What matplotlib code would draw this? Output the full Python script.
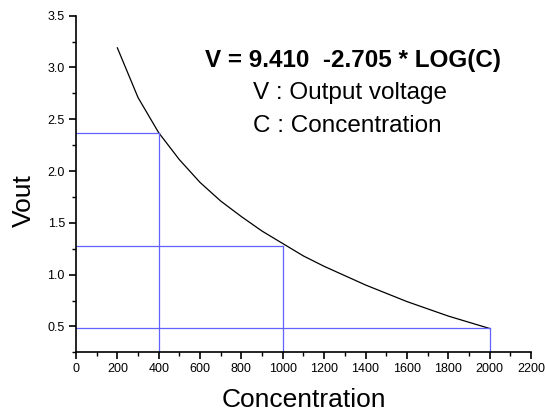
import matplotlib
matplotlib.use("Agg")
import matplotlib.pyplot as plt
from matplotlib.ticker import MultipleLocator

plt.rcParams['font.family'] = ['Liberation Sans', 'DejaVu Sans']

conc = [200, 300, 400, 500, 600, 700, 800, 900, 1000, 1100, 1200, 1300,
        1400, 1500, 1600, 1700, 1800, 1900, 2000]
vout = [3.19, 2.71, 2.37, 2.11, 1.89, 1.71, 1.56, 1.42, 1.30, 1.18, 1.08,
        0.99, 0.90, 0.82, 0.74, 0.67, 0.60, 0.54, 0.48]

ref_conc = [400, 1000, 2000]
ref_vout = [2.37, 1.28, 0.48]

W, H = 545, 411
fig = plt.figure(figsize=(W / 100, H / 100), dpi=100)
ax = fig.add_axes([0.1394, 0.1428, 0.8349, 0.819])

ax.plot(conc, vout, color='black', lw=0.9)

ymin = 0.25
blue = '#6262ff'
for c, v in zip(ref_conc, ref_vout):
    ax.plot([0, c], [v, v], color=blue, lw=0.9)
    ax.plot([c, c], [ymin, v], color=blue, lw=0.9)

ax.set_xlim(0, 2200)
ax.set_ylim(ymin, 3.5)
ax.xaxis.set_major_locator(MultipleLocator(200))
ax.xaxis.set_minor_locator(MultipleLocator(100))
ax.yaxis.set_minor_locator(MultipleLocator(0.25))
ax.set_yticks([0.5, 1.0, 1.5, 2.0, 2.5, 3.0, 3.5])
ax.set_yticklabels(['0.5', '1.0', '1.5', '2.0', '2.5', '3.0', '3.5'])

for s in ['top', 'right']:
    ax.spines[s].set_visible(False)
for s in ['left', 'bottom']:
    ax.spines[s].set_linewidth(1.2)

ax.tick_params(which='major', direction='out', length=5, width=1.2,
               labelsize=9, pad=3)
ax.tick_params(which='minor', direction='out', length=3, width=1.0)

ax.set_xlabel('Concentration', fontsize=19, labelpad=9)
ax.set_ylabel('Vout', fontsize=19)
ax.yaxis.set_label_coords(-0.088, 0.45)

fig.text(205 / W, 1 - 67.5 / H, 'V = 9.410  -2.705 * LOG(C)',
         ha='left', va='baseline', fontsize=17.5, fontweight='bold')
fig.text(253 / W, 1 - 98.5 / H, 'V : Output voltage',
         ha='left', va='baseline', fontsize=17.5)
fig.text(253 / W, 1 - 131.5 / H, 'C : Concentration',
         ha='left', va='baseline', fontsize=17.5)

fig.savefig('out.png', dpi=100)
